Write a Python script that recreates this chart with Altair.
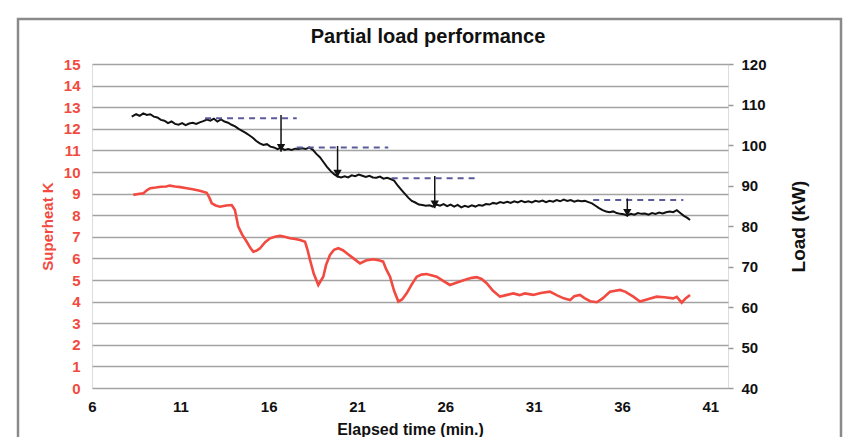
import altair as alt
import pandas as pd

# ---- data ----
time_load = [8.25, 8.5, 8.7, 8.9, 9.1, 9.3, 9.5, 9.7, 9.9, 10.1, 10.3, 10.5, 10.7, 10.9, 11.1, 11.3, 11.5, 11.7, 11.9,
             12.1, 12.3, 12.5, 12.7, 12.9, 13.1, 13.3, 13.5, 13.7, 13.9, 14.1, 14.3, 14.5, 14.7, 14.9, 15.1, 15.3,
             15.5, 15.7, 15.9, 16.1, 16.3, 16.5, 16.7, 16.9, 17.1, 17.3, 17.5, 17.7, 17.9, 18.1, 18.3, 18.5, 18.7,
             18.9, 19.1, 19.3, 19.5, 19.7, 19.9, 20.1, 20.3, 20.5, 20.7, 20.9, 21.1, 21.3, 21.5, 21.7, 21.9, 22.1,
             22.3, 22.5, 22.7, 22.9, 23.1, 23.3, 23.5, 23.7, 23.9, 24.1, 24.3, 24.5, 24.7, 24.9, 25.1, 25.3, 25.5,
             25.7, 25.9, 26.1, 26.3, 26.5, 26.7, 26.9, 27.1, 27.3, 27.5, 27.7, 27.9, 28.1, 28.3, 28.5, 28.7, 28.9,
             29.1, 29.3, 29.5, 29.7, 29.9, 30.1, 30.3, 30.5, 30.7, 30.9, 31.1, 31.3, 31.5, 31.7, 31.9, 32.1, 32.3,
             32.5, 32.7, 32.9, 33.1, 33.3, 33.5, 33.7, 33.9, 34.1, 34.3, 34.5, 34.7, 34.9, 35.1, 35.3, 35.5, 35.7,
             35.9, 36.1, 36.3, 36.5, 36.7, 36.9, 37.1, 37.3, 37.5, 37.7, 37.9, 38.1, 38.3, 38.5, 38.7, 38.9, 39.1,
             39.3, 39.5, 39.7, 39.85]
load_kw = [107.0, 107.6, 107.2, 107.8, 107.4, 107.6, 107.0, 106.8, 106.2, 106.0, 105.4, 105.8, 105.2, 105.0, 105.4,
           104.9, 105.3, 105.5, 105.2, 105.6, 105.9, 106.3, 106.0, 106.5, 105.8, 106.3, 105.8, 105.5, 105.0, 104.6,
           104.0, 103.5, 103.0, 102.4, 101.8, 101.0, 100.4, 100.0, 100.2, 99.6, 99.4, 99.0, 99.3, 98.8, 99.0, 98.8,
           99.1, 99.0, 99.2, 99.0, 99.4, 98.8, 97.8, 97.0, 95.8, 94.6, 93.6, 92.8, 92.2, 92.0, 92.3, 92.0, 92.5,
           92.3, 92.7, 92.4, 92.1, 92.4, 92.0, 91.9, 92.2, 91.7, 91.9, 91.6, 91.2, 90.0, 89.0, 88.0, 87.0, 86.2,
           85.8, 85.3, 85.2, 85.0, 85.1, 84.8, 85.3, 85.0, 85.4, 84.9, 85.3, 84.8, 85.2, 84.6, 85.0, 84.7, 85.1,
           84.8, 85.2, 85.0, 85.4, 85.3, 85.7, 85.5, 85.9, 85.7, 86.0, 85.7, 86.1, 85.8, 86.2, 85.9, 86.1, 85.8,
           86.2, 86.0, 86.3, 85.9, 86.2, 86.0, 86.4, 86.1, 86.5, 86.2, 86.4, 86.0, 86.3, 86.1, 86.2, 85.9, 85.6,
           85.0, 84.4, 83.9, 83.6, 83.4, 83.6, 83.2, 83.0, 82.9, 82.6, 83.0, 82.8, 83.2, 83.0, 83.1, 82.8, 83.2,
           83.0, 83.3, 83.1, 83.4, 83.6, 83.4, 83.9, 83.2, 82.5, 82.0, 81.5]

time_sh = [8.34, 8.6, 8.9, 9.1, 9.3, 9.6, 9.9, 10.2, 10.4, 10.7, 11.0, 11.36, 11.7, 12.1, 12.49, 12.65, 12.78, 13.0,
           13.25, 13.6, 13.91, 14.09, 14.28, 14.5, 14.76, 14.95, 15.13, 15.3, 15.51, 15.8, 16.08, 16.35, 16.64,
           16.9, 17.21, 17.5, 17.77, 18.06, 18.2, 18.34, 18.55, 18.81, 19.09, 19.25, 19.47, 19.7, 19.94, 20.2,
           20.42, 20.8, 21.17, 21.5, 21.92, 22.2, 22.48, 22.65, 22.87, 23.1, 23.34, 23.55, 23.81, 24.1, 24.38,
           24.65, 24.94, 25.2, 25.51, 25.9, 26.26, 26.7, 27.21, 27.5, 27.78, 28.05, 28.34, 28.7, 29.09, 29.45,
           29.85, 30.2, 30.5, 30.98, 31.4, 31.92, 32.3, 32.7, 33.06, 33.3, 33.62, 33.9, 34.2, 34.57, 34.9, 35.32,
           35.89, 36.2, 36.64, 37.02, 37.5, 37.96, 38.4, 38.9, 39.1, 39.38, 39.6, 39.85]
superheat_k = [8.94, 8.98, 9.01, 9.15, 9.25, 9.28, 9.32, 9.33, 9.37, 9.33, 9.30, 9.25, 9.2, 9.13, 9.04, 8.8, 8.55,
               8.45, 8.39, 8.45, 8.47, 8.24, 7.47, 7.1, 6.77, 6.5, 6.31, 6.35, 6.47, 6.75, 6.93, 7.0, 7.05, 7.0,
               6.93, 6.9, 6.85, 6.77, 6.4, 5.93, 5.3, 4.77, 5.15, 5.7, 6.16, 6.4, 6.47, 6.38, 6.24, 6.0, 5.77, 5.9,
               5.96, 5.92, 5.85, 5.5, 5.15, 4.5, 4.0, 4.1, 4.38, 4.8, 5.15, 5.25, 5.28, 5.22, 5.15, 4.95, 4.77, 4.9,
               5.03, 5.1, 5.13, 5.05, 4.85, 4.5, 4.23, 4.3, 4.38, 4.3, 4.38, 4.31, 4.4, 4.46, 4.3, 4.15, 4.07, 4.25,
               4.31, 4.15, 4.02, 3.97, 4.15, 4.46, 4.54, 4.45, 4.23, 4.0, 4.12, 4.23, 4.2, 4.15, 4.22, 3.95, 4.15,
               4.31]

# set-point reference levels (dashed) and load-step arrows
dash_t_start = [12.4, 17.59, 22.96, 34.37]
dash_t_end = [17.59, 22.77, 27.87, 39.47]
dash_load = [106.6, 99.4, 91.8, 86.4]

arrow_t = [16.7, 19.9, 25.4, 36.3]
arrow_top = [107.4, 99.75, 92.35, 86.8]
arrow_bottom = [98.35, 92.0, 84.4, 82.3]

x_ticks = [6, 11, 16, 21, 26, 31, 36, 41]
sh_ticks = list(range(0, 16))
load_ticks = [40, 50, 60, 70, 80, 90, 100, 110, 120]

# ---- tables ----
df_load = pd.DataFrame({"t": time_load, "L": load_kw})
df_sh = pd.DataFrame({"t": time_sh, "SH": superheat_k})
df_dash = pd.DataFrame({"t": dash_t_start, "t2": dash_t_end, "L": dash_load})
df_arrow = pd.DataFrame({"t": arrow_t, "L": arrow_top, "L2": arrow_bottom})
df_head = pd.DataFrame({"t": arrow_t, "L": arrow_bottom})

FONT = "Liberation Sans"
RED = "#f24a40"

x_scale = alt.Scale(domain=[6, 42], nice=False, zero=False)
x_axis = alt.Axis(
    values=x_ticks, title="Elapsed time (min.)", grid=False, ticks=False, domain=False,
    labelFont=FONT, labelFontSize=15, labelFontWeight="bold", labelColor="#111",
    labelPadding=11, titleFont=FONT, titleFontSize=16, titleFontWeight="bold",
    titleColor="#111", titlePadding=7, labelFlush=False,
)
x_enc = alt.X("t:Q", scale=x_scale, axis=x_axis)

load_scale = alt.Scale(domain=[40, 120], nice=False, zero=False)
load_axis = alt.Axis(
    orient="right", values=load_ticks, title="Load (kW)", grid=False, ticks=True, tickSize=5,
    tickColor="#999", tickWidth=1.5, domain=False,
    labelFont=FONT, labelFontSize=15, labelFontWeight="bold", labelColor="#111", labelPadding=8,
    titleFont=FONT, titleFontSize=19, titleFontWeight="bold", titleColor="#111",
    titleAngle=270, titlePadding=42,
)
y_load = alt.Y("L:Q", scale=load_scale, axis=load_axis)

red = alt.Chart(df_sh).mark_line(color=RED, strokeWidth=2.6).encode(
    x=x_enc,
    y=alt.Y(
        "SH:Q",
        scale=alt.Scale(domain=[0, 15], nice=False, zero=True),
        axis=alt.Axis(
            values=sh_ticks, title="Superheat K", grid=True, gridColor="#a3a3a3", gridWidth=1.6,
            ticks=False, domain=False, labelFont=FONT, labelFontSize=15, labelFontWeight="bold",
            labelColor=RED, labelPadding=12, titleFont=FONT, titleFontSize=15, titleFontWeight="bold",
            titleColor=RED, titlePadding=8,
        ),
    ),
)

black = alt.Chart(df_load).mark_line(color="#111111", strokeWidth=2).encode(x=x_enc, y=y_load)
dashes = alt.Chart(df_dash).mark_rule(color="#5b5b9c", strokeWidth=2, strokeDash=[6, 5]).encode(
    x=x_enc, x2="t2:Q", y=y_load
)
arrows = alt.Chart(df_arrow).mark_rule(color="#111111", strokeWidth=1.5).encode(
    x=x_enc, y=y_load, y2="L2:Q"
)
heads = alt.Chart(df_head).mark_point(
    shape="triangle-down", filled=True, color="#111111", size=70, opacity=1, yOffset=-4
).encode(x=x_enc, y=y_load)

right_layer = alt.layer(black, dashes, arrows, heads)

frame = alt.Chart(alt.Data(values=[{}])).mark_rect(
    filled=False, stroke="#8a8a8a", strokeWidth=2.5
).encode(
    x=alt.value(-74), x2=alt.value(749), y=alt.value(-45), y2=alt.value(420)
)

chart = alt.layer(red, right_layer, frame).resolve_scale(y="independent").properties(
    width=636,
    height=324,
    padding={"left": 84, "top": 56, "right": 115, "bottom": 49},
    autosize=alt.AutoSizeParams(type="none"),
    title=alt.Title(
        "Partial load performance", font=FONT, fontSize=20, fontWeight="bold", color="#111",
        anchor="middle", offset=-29, dx=18,
    ),
).configure_view(stroke="#8f8f8f", strokeWidth=1.5).configure(background="white")

chart.save("out.html", embed_options={"renderer": "svg", "actions": False})
